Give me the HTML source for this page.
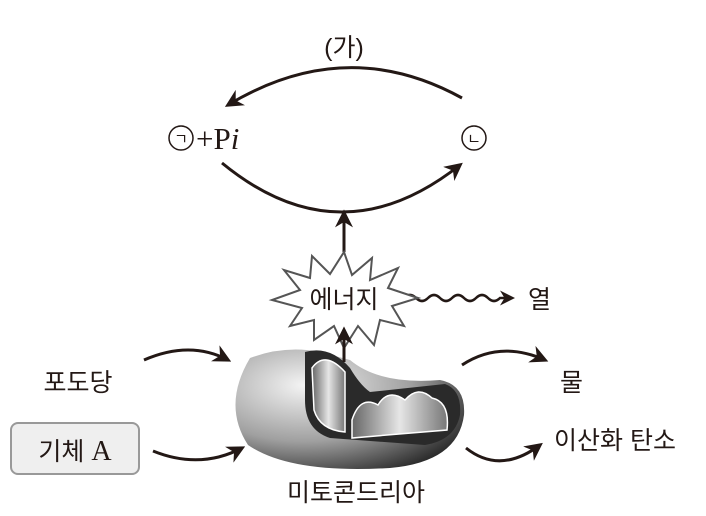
<!DOCTYPE html>
<html><head><meta charset="utf-8"><style>
body{margin:0;background:#fff;width:706px;height:511px;overflow:hidden}
svg text{font-family:"Liberation Sans","Noto Sans CJK KR",sans-serif;fill:#231815}
</style></head><body>
<svg width="706" height="511" viewBox="0 0 706 511" xmlns="http://www.w3.org/2000/svg">
<defs>
<marker id="ah" viewBox="0 0 10 10" refX="8" refY="5" markerWidth="6" markerHeight="6" orient="auto"><path d="M0,0 L10,5 L0,10 L3,5 z" fill="#231815"/></marker>
<radialGradient id="g1" cx="0.3" cy="0.3" r="0.85"><stop offset="0" stop-color="#f4f4f4"/><stop offset="0.55" stop-color="#a0a0a0"/><stop offset="1" stop-color="#222"/></radialGradient>
<linearGradient id="g2" x1="0" y1="0" x2="1" y2="0"><stop offset="0" stop-color="#666"/><stop offset="0.5" stop-color="#e6e6e6"/><stop offset="1" stop-color="#777"/></linearGradient>
</defs>
<g fill="none" stroke="#231815" stroke-width="3">
<path d="M462 98 Q346 34 228 105" marker-end="url(#ah)"/>
<path d="M222 163 Q340 260 460 165" marker-end="url(#ah)"/>
<path d="M344 252 L344 213" marker-end="url(#ah)"/>
<path d="M144 360 Q190 340 228 360" marker-end="url(#ah)"/>
<path d="M153 451 Q200 470 242 448" marker-end="url(#ah)"/>
<path d="M462 365 Q500 340 545 360" marker-end="url(#ah)"/>
<path d="M466 448 Q500 475 540 445" marker-end="url(#ah)"/>
<path d="M404 298 q6 -6 12 0 t12 0 t12 0 t12 0 t12 0 t12 0 t12 0 t12 0 L512 298" marker-end="url(#ah)" stroke-width="2.5"/>
</g>
<path d="M344 252 L352 275 L372 258 L370 280 L398 268 L388 288 L418 298 L392 306 L404 326 L380 320 L374 345 L358 326 L344 348 L334 326 L314 340 L314 320 L290 326 L302 308 L272 300 L300 290 L284 270 L310 278 L312 256 L330 274 Z" fill="#fff" stroke="#555" stroke-width="2"/>
<text x="344" y="308" font-size="25" text-anchor="middle">에너지</text>
<text x="528" y="308" font-size="25">열</text>
<!-- mitochondria -->
<path d="M250 358 Q285 345 320 352 L350 360 Q380 385 440 380 Q466 385 464 415 Q458 462 390 468 Q290 474 248 445 Q222 405 250 358 Z" fill="url(#g1)"/>
<path d="M305 352 Q330 345 350 368 Q360 385 370 392 L445 384 Q462 390 460 415 Q455 440 425 445 L330 438 Q305 430 305 400 Z" fill="#2a2a2a"/>
<path d="M312 368 Q325 350 345 372 L345 432 Q320 430 314 410 Z" fill="url(#g2)" stroke="#fff" stroke-width="1.5"/>
<path d="M352 420 Q360 395 378 405 Q388 388 405 400 Q418 385 432 398 Q450 402 447 430 L352 438 Z" fill="url(#g2)" stroke="#fff" stroke-width="1.5"/>
<path d="M344 362 L344 330" fill="none" stroke="#231815" stroke-width="3" marker-end="url(#ah)"/>
<text x="78" y="391" font-size="25" text-anchor="middle">포도당</text>
<rect x="11" y="423" width="128" height="51" rx="7" fill="#efefef" stroke="#999" stroke-width="2"/>
<text x="75" y="460" font-size="25" text-anchor="middle">기체 <tspan style="font-family:'Liberation Serif',serif" font-size="28">A</tspan></text>
<text x="356" y="501" font-size="25" text-anchor="middle">미토콘드리아</text>
<text x="560" y="391" font-size="25">물</text>
<text x="554" y="449" font-size="25">이산화 탄소</text>
<text x="344" y="56" font-size="25" text-anchor="middle">(가)</text>
<circle cx="181" cy="138" r="12" fill="none" stroke="#231815" stroke-width="1.5"/>
<text x="181" y="144" font-size="15" text-anchor="middle">ㄱ</text>
<text x="196" y="149" font-size="31" style="font-family:'Liberation Serif',serif">+P<tspan font-style="italic">i</tspan></text>
<circle cx="474" cy="138" r="12" fill="none" stroke="#231815" stroke-width="1.5"/>
<text x="474" y="144" font-size="15" text-anchor="middle">ㄴ</text>
</svg>
</body></html>
